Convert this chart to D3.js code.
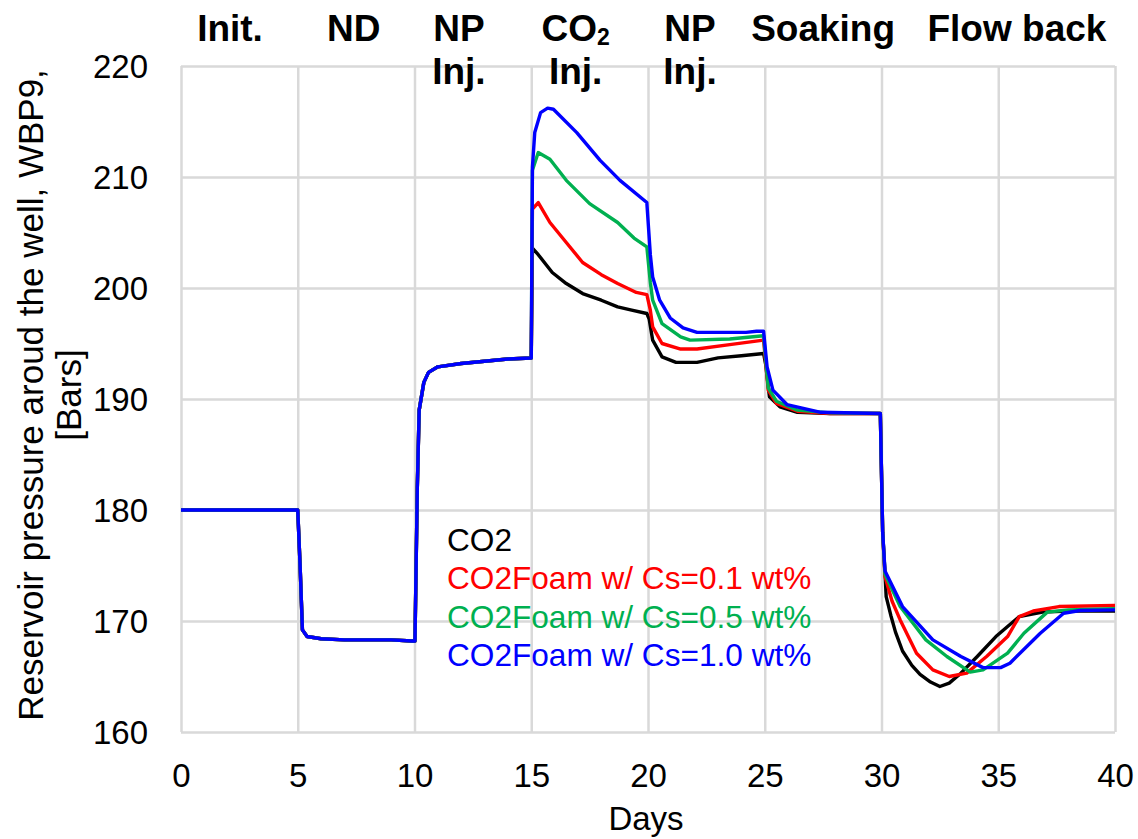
<!DOCTYPE html>
<html>
<head>
<meta charset="utf-8">
<script src="https://cdn.jsdelivr.net/npm/d3@7"></script>
<style>
  html, body { margin: 0; padding: 0; background: #fff; }
  svg { display: block; font-family: Arial, "Liberation Sans", sans-serif; }
</style>
</head>
<body>
<svg id="chart" width="1138" height="839"></svg>
<script>
// ---- data ----
const xTicks = [0, 5, 10, 15, 20, 25, 30, 35, 40];
const yTicks = [160, 170, 180, 190, 200, 210, 220];
const seriesNames = ["CO2", "CO2Foam w/ Cs=0.1 wt%", "CO2Foam w/ Cs=0.5 wt%", "CO2Foam w/ Cs=1.0 wt%"];
const seriesColors = ["#000000", "#ff0000", "#00b050", "#0000ff"];

const commonPart = [
  [0,180],[5.0,180],[5.1,175],[5.2,169.2],[5.4,168.6],[6,168.4],[7,168.3],[8,168.3],[9,168.3],
  [9.9,168.2],[10.02,168.2],[10.12,182],[10.2,189],[10.4,191.5],[10.6,192.4],[11,192.9],
  [12,193.2],[13,193.4],[14,193.6],[15.0,193.7]
];
const co2 = [
  [15.05,203.6],[15.3,203],[15.9,201.4],[16.5,200.4],[17.2,199.5],[18,198.9],[18.7,198.3],[19.3,198],
  [19.95,197.7],[20.05,197.2],[20.2,195.3],[20.6,193.8],[21.2,193.3],[22.1,193.3],[23,193.7],[24,193.9],
  [24.95,194.1],[25.05,193],[25.2,190.2],[25.65,189.3],[26.4,188.8],[27.8,188.7],[29.95,188.7],
  [30.05,178],[30.15,174.3],[30.2,172.2],[30.4,170.5],[30.6,169],[30.9,167.3],[31.3,166],[31.65,165.2],
  [32.1,164.5],[32.5,164.1],[32.9,164.4],[33.4,165.3],[34.1,166.8],[34.9,168.6],[35.4,169.5],[35.9,170.4],
  [36.9,170.8],[38,170.9],[40,170.9]
];
const foam01 = [
  [15.05,207.1],[15.3,207.7],[15.8,205.9],[16.5,204.1],[17.2,202.3],[18,201.2],[18.7,200.4],[19.5,199.6],
  [19.95,199.4],[20.1,198],[20.2,196.5],[20.6,195],[21.4,194.5],[22.1,194.5],[23.5,194.9],[24.95,195.3],
  [25.15,190.8],[25.5,189.6],[26.4,188.9],[27.8,188.7],[29.95,188.7],
  [30.05,178],[30.15,174],[30.45,171.8],[30.8,170.1],[31.5,167.1],[32.2,165.6],[32.9,165],[33.65,165.3],
  [34.5,166.8],[35.4,168.6],[35.9,170.4],[36.5,170.9],[37.6,171.3],[40,171.4]
];
const foam05 = [
  [15.05,210.6],[15.3,212.2],[15.8,211.6],[16.5,209.7],[17.5,207.6],[18.7,205.9],[19.4,204.5],[19.95,203.7],
  [20.1,200.5],[20.2,198.9],[20.6,196.8],[21.4,195.6],[21.8,195.3],[23.5,195.4],[24.95,195.7],
  [25.15,191],[25.5,189.8],[26.4,189],[27.8,188.75],[29.95,188.7],
  [30.05,178],[30.15,174.2],[30.8,171.3],[31.9,168.3],[32.8,166.8],[33.8,165.4],[34.35,165.6],[35.4,167.1],
  [36.1,168.9],[37.1,170.8],[38,171],[40,171.1]
];
const foam10 = [
  [15.05,210.9],[15.15,214],[15.4,215.8],[15.7,216.2],[15.95,216.1],[16.95,214],[17.95,211.5],[18.8,209.7],
  [19.95,207.7],[20.1,203],[20.2,201],[20.5,198.9],[20.95,197.3],[21.5,196.4],[22.1,196],[24.2,196],
  [24.65,196.1],[24.95,196.1],[25.1,192.9],[25.35,190.8],[25.95,189.5],[27.4,188.8],[29.95,188.7],
  [30.05,178],[30.15,174.5],[30.9,171.3],[32.2,168.3],[33.4,166.8],[34.35,165.8],[35.1,165.8],[35.5,166.2],
  [36.8,168.9],[37.8,170.7],[38.5,170.95],[40,171.0]
];
const seriesData = [co2, foam01, foam05, foam10];

const phaseLabels = [
  { day: 2.1, lines: ["Init."] },
  { day: 7.4, lines: ["ND"] },
  { day: 11.9, lines: ["NP", "Inj."] },
  { day: 16.9, lines: ["CO₂", "Inj."] },
  { day: 21.8, lines: ["NP", "Inj."] },
  { day: 27.5, lines: ["Soaking"] },
  { day: 35.8, lines: ["Flow back"] }
];

// ---- layout ----
const svg = d3.select("#chart");
const L = 181, R = 1115, T = 66, B = 732;
const x = d3.scaleLinear().domain([0, 40]).range([L, R]);
const y = d3.scaleLinear().domain([160, 220]).range([B, T]);
const gridColor = "#d9d9d9";

// grid
const gx = svg.append("g").attr("transform", `translate(0,${B})`)
  .call(d3.axisBottom(x).tickValues(xTicks).tickSize(-(B - T)).tickFormat(""));
gx.selectAll("line").attr("stroke", gridColor).attr("stroke-width", 2.5);
gx.select(".domain").remove();
const gy = svg.append("g").attr("transform", `translate(${L},0)`)
  .call(d3.axisLeft(y).tickValues(yTicks).tickSize(-(R - L)).tickFormat(""));
gy.selectAll("line").attr("stroke", gridColor).attr("stroke-width", 2.5);
gy.select(".domain").remove();

// tick labels
const xl = svg.append("g").attr("transform", `translate(0,${B})`)
  .call(d3.axisBottom(x).tickValues(xTicks).tickSize(0).tickPadding(0).tickFormat(d3.format("d")));
xl.select(".domain").remove();
xl.selectAll("text").attr("font-size", 33).attr("fill", "#000")
  .attr("font-family", "Arial, 'Liberation Sans', sans-serif").attr("dy", null).attr("y", 55);
const yl = svg.append("g").attr("transform", `translate(${L},0)`)
  .call(d3.axisLeft(y).tickValues(yTicks).tickSize(0).tickPadding(0).tickFormat(d3.format("d")));
yl.select(".domain").remove();
yl.selectAll("text").attr("font-size", 33).attr("fill", "#000")
  .attr("font-family", "Arial, 'Liberation Sans', sans-serif").attr("x", -33).attr("dy", "0.35em");

// axis titles
svg.append("text").attr("x", (L + R) / 2 - 2).attr("y", 830).attr("text-anchor", "middle")
  .attr("font-size", 33).text("Days");
const yt = svg.append("text").attr("transform", `translate(0,${(T + B) / 2 - 4}) rotate(-90)`)
  .attr("text-anchor", "middle").attr("font-size", 35);
yt.append("tspan").attr("x", 0).attr("y", 43).text("Reservoir pressure aroud the well, WBP9,");
yt.append("tspan").attr("x", 0).attr("y", 81).text("[Bars]");

// lines
const line = d3.line().x(d => x(d[0])).y(d => y(d[1]));
seriesData.forEach((s, i) => {
  svg.append("path").datum(commonPart.concat(s))
    .attr("fill", "none").attr("stroke", seriesColors[i]).attr("stroke-width", 3.4)
    .attr("stroke-linejoin", "round").attr("d", line);
});

// legend
const lg = svg.append("g");
seriesNames.forEach((n, i) => {
  lg.append("text").attr("x", 447).attr("y", 551 + i * 38.3).attr("font-size", 31.6)
    .attr("fill", seriesColors[i]).text(n);
});

// phase labels
const line1Y = 41, lineGap = 43;
phaseLabels.forEach(p => {
  const cx = x(p.day);
  p.lines.forEach((ln, j) => {
    const t = svg.append("text").attr("x", cx).attr("y", line1Y + j * lineGap)
      .attr("text-anchor", "middle").attr("font-size", 37).attr("font-weight", "bold");
    if (ln === "CO₂") {
      t.append("tspan").text("CO");
      t.append("tspan").attr("font-size", 23).attr("dy", 4).text("2");
    } else {
      t.text(ln);
    }
  });
});
</script>
</body>
</html>
